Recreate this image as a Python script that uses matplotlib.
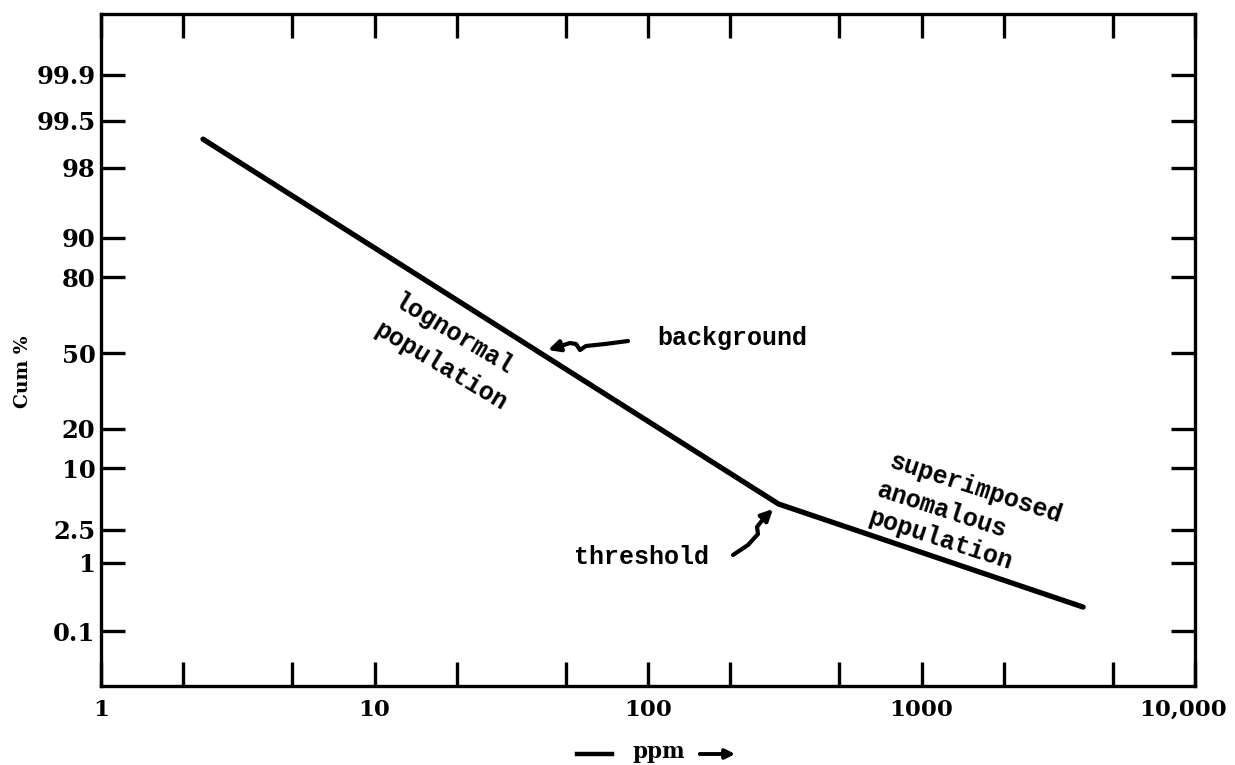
"""Cumulative probability plot: background vs anomalous population."""
from statistics import NormalDist

import numpy as np
import matplotlib
matplotlib.use("Agg")
import matplotlib.pyplot as plt
from matplotlib.lines import Line2D
from matplotlib.patches import FancyArrowPatch
from matplotlib.path import Path
from matplotlib.ticker import FixedLocator, FixedFormatter, NullLocator
from matplotlib.transforms import ScaledTranslation

# --- data ---
ppm = [2.36, 300, 3900]
cum_pct = [99.12, 4.69, 0.24]

x_major = [1, 10, 100, 1000, 10000]
x_major_labels = ["1", "10", "100", "1000", "10,000"]
x_minor = [2, 5, 20, 50, 200, 500, 2000, 5000]

y_ticks = [99.9, 99.5, 98, 90, 80, 50, 20, 10, 2.5, 1, 0.1]
y_tick_labels = ["99.9", "99.5", "98", "90", "80", "50", "20", "10", "2.5", "1", "0.1"]

W, H = 1235, 765
_nd = NormalDist()


def fpx(x, y):
    """pixel (from top-left) -> figure fraction"""
    return (x / W, 1 - y / H)


def to_z(p):
    p = np.clip(np.asarray(p, dtype=float) / 100.0, 1e-12, 1 - 1e-12)
    return np.vectorize(_nd.inv_cdf, otypes=[float])(p)


def from_z(z):
    return np.vectorize(_nd.cdf, otypes=[float])(np.asarray(z, dtype=float)) * 100.0


plt.rcParams["font.family"] = "DejaVu Serif"
plt.rcParams["font.weight"] = "bold"

fig = plt.figure(figsize=(W / 100, H / 100), dpi=100)
ax = fig.add_axes([101 / W, 1 - 686 / H, (1195 - 101) / W, (686 - 14) / H])

ax.plot(ppm, cum_pct, color="black", lw=3.8, solid_capstyle="round")

ax.set_xscale("log")
ax.set_xlim(1, 10000)
ax.xaxis.set_major_locator(FixedLocator(x_major))
ax.xaxis.set_major_formatter(FixedFormatter(x_major_labels))
ax.xaxis.set_minor_locator(FixedLocator(x_minor))

ax.set_yscale("function", functions=(to_z, from_z))
ax.set_ylim(float(from_z(-3.696)), float(from_z(3.763)))
ax.yaxis.set_major_locator(FixedLocator(y_ticks))
ax.yaxis.set_major_formatter(FixedFormatter(y_tick_labels))
ax.yaxis.set_minor_locator(NullLocator())

for s in ax.spines.values():
    s.set_linewidth(2.4)
ax.tick_params(axis="both", which="both", direction="in", top=True, right=True,
               width=2.4, length=17, color="black")
ax.tick_params(axis="x", which="major", pad=9, labelsize=16.5)
ax.tick_params(axis="y", which="major", pad=4, labelsize=17.5)

# keep "10,000" inside the canvas
last = ax.get_xticklabels()[-1]
last.set_transform(last.get_transform() + ScaledTranslation(-12 / 100, 0, fig.dpi_scale_trans))

# axis titles
fig.text(*fpx(23, 372), "Cum %", rotation=90, ha="center", va="center", fontsize=13.5)
fig.text(*fpx(659, 752), "ppm", ha="center", va="center", fontsize=15.5)
fig.add_artist(Line2D([577 / W, 612 / W], [1 - 754 / H] * 2, transform=fig.transFigure,
                      color="black", lw=3.2))
fig.add_artist(FancyArrowPatch(fpx(697, 754), fpx(738, 754), transform=fig.transFigure,
                               arrowstyle="-|>", mutation_scale=14, lw=2.8, color="black"))

# annotations (typewriter style)
mono = dict(family="Liberation Mono", fontsize=18, weight="bold", ha="center", va="center")
fig.text(*fpx(453, 334), "lognormal", rotation=-31, **mono)
fig.text(*fpx(441, 366), "population", rotation=-31, **mono)
fig.text(*fpx(732, 338), "background", **mono)
fig.text(*fpx(641, 557), "threshold", **mono)
fig.text(*fpx(976, 488), "superimposed", rotation=-18, **mono)
fig.text(*fpx(942, 510), "anomalous", rotation=-18, **mono)
fig.text(*fpx(940, 540), "population", rotation=-18, **mono)


def squiggle(pts):
    verts = [fig.transFigure.transform(fpx(x, y)) for x, y in pts]
    arr = FancyArrowPatch(path=Path(verts), arrowstyle="-|>", mutation_scale=17, lw=3.0,
                          color="black", transform=None)
    fig.add_artist(arr)


squiggle([(628, 341), (605, 344), (586, 346), (580, 350), (576, 344), (570, 343), (548, 350)])
squiggle([(733, 555), (748, 545), (758, 534), (757, 527), (764, 518), (773, 509)])

fig.savefig("out.png", dpi=100, facecolor="white")
